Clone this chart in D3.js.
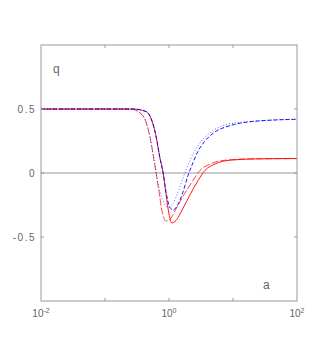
<!DOCTYPE html>
<html>
<head>
<meta charset="utf-8">
<script src="https://cdn.jsdelivr.net/npm/d3@7"></script>
<style>
  body { margin: 0; background: #fff; }
  svg text { font-family: "Liberation Sans", Arial, sans-serif; fill: #666; }
</style>
</head>
<body>
<svg id="chart" width="324" height="360"></svg>
<script>
// tick labels
const yTicks = [-0.5, 0, 0.5];
const xTicks = [0.1, 1, 10];
const xLabelExp = [-2, 0, 2];

// curves: a values and q values
const blueDotA = [0.01, 0.25, 0.35, 0.42, 0.5, 0.58, 0.67, 0.78, 0.9, 1.0, 1.15, 1.38, 1.71, 2.13, 2.74, 3.65, 5.2, 8.2, 17, 100];
const blueDotQ = [0.5, 0.5, 0.47, 0.42, 0.29, 0.11, -0.08, -0.2, -0.26, -0.27, -0.24, -0.15, -0.02, 0.10, 0.2, 0.28, 0.34, 0.38, 0.40, 0.42];

const blueDashA = [0.01, 0.27, 0.44, 0.52, 0.62, 0.72, 0.81, 0.9, 1.0, 1.15, 1.33, 1.6, 1.98, 2.37, 2.84, 3.65, 5.2, 9, 18, 100];
const blueDashQ = [0.5, 0.5, 0.48, 0.43, 0.30, 0.12, 0, -0.15, -0.25, -0.29, -0.26, -0.17, -0.02, 0.08, 0.17, 0.25, 0.32, 0.37, 0.40, 0.42];

const redDashA = [0.01, 0.25, 0.35, 0.42, 0.5, 0.58, 0.63, 0.7, 0.78, 0.9, 1.04, 1.29, 1.71, 2.29, 3.05, 4.4, 7.5, 18, 100];
const redDashQ = [0.5, 0.5, 0.47, 0.42, 0.29, 0.11, 0, -0.15, -0.30, -0.375, -0.36, -0.28, -0.17, -0.07, 0.02, 0.07, 0.10, 0.11, 0.113];

const redSolidA = [0.01, 0.27, 0.44, 0.52, 0.62, 0.72, 0.81, 0.9, 1.0, 1.11, 1.29, 1.6, 2.13, 2.84, 3.65, 5.2, 9, 22, 100];
const redSolidQ = [0.5, 0.5, 0.48, 0.43, 0.30, 0.12, 0, -0.17, -0.32, -0.39, -0.37, -0.29, -0.17, -0.06, 0.02, 0.07, 0.10, 0.11, 0.113];

// red first so the blue ones sit on top like in the picture
const series = [
  { a: redSolidA, q: redSolidQ, color: "#ff0000", dash: null, op: 0.9 },
  { a: redDashA, q: redDashQ, color: "#ff0000", dash: "7,2", op: 0.7 },
  { a: blueDashA, q: blueDashQ, color: "#0000ff", dash: "4,2", op: 0.9 },
  { a: blueDotA, q: blueDotQ, color: "#0000ff", dash: "1,2", op: 0.6 }
];

const margin = { top: 45, right: 27, bottom: 59, left: 41 };
const width = 324 - margin.left - margin.right;
const height = 360 - margin.top - margin.bottom;

const svg = d3.select("#chart")
  .append("g")
  .attr("transform", `translate(${margin.left}, ${margin.top})`);

const x = d3.scaleLog().domain([0.01, 100]).range([0, width]);
const y = d3.scaleLinear().domain([-1, 1]).range([height, 0]);

// zero line
svg.append("line")
  .attr("x1", 0).attr("x2", width)
  .attr("y1", y(0)).attr("y2", y(0))
  .attr("stroke", "#999").attr("stroke-width", 1);

// curves
const line = d3.line()
  .x(d => x(d[0]))
  .y(d => y(d[1]))
  .curve(d3.curveMonotoneX);

series.forEach(s => {
  const pts = s.a.map((v, i) => [v, s.q[i]]);
  svg.append("path")
    .attr("d", line(pts))
    .attr("fill", "none")
    .attr("stroke", s.color)
    .attr("stroke-opacity", s.op)
    .attr("stroke-width", 1)
    .attr("stroke-dasharray", s.dash);
});

// frame
svg.append("rect")
  .attr("width", width).attr("height", height)
  .attr("fill", "none").attr("stroke", "#999").attr("stroke-width", 1);

// inward ticks
const tl = 3;
xTicks.forEach(t => {
  svg.append("line").attr("x1", x(t)).attr("x2", x(t)).attr("y1", height).attr("y2", height - tl).attr("stroke", "#999");
  svg.append("line").attr("x1", x(t)).attr("x2", x(t)).attr("y1", 0).attr("y2", tl).attr("stroke", "#999");
});
yTicks.forEach(t => {
  svg.append("line").attr("x1", 0).attr("x2", tl).attr("y1", y(t)).attr("y2", y(t)).attr("stroke", "#999");
  svg.append("line").attr("x1", width).attr("x2", width - tl).attr("y1", y(t)).attr("y2", y(t)).attr("stroke", "#999");
});

// y labels
svg.selectAll(".ylab")
  .data(yTicks)
  .enter().append("text")
  .attr("x", -5)
  .attr("y", d => y(d) + 3.5)
  .attr("text-anchor", "end")
  .style("font-size", "10px")
  .style("letter-spacing", "1.5px")
  .text(d => d === 0 ? "0" : d3.format(".1f")(d).replace("−", "-"));

// x labels 10^n
xLabelExp.forEach(e => {
  const t = svg.append("text")
    .attr("x", x(Math.pow(10, e)))
    .attr("y", height + 16)
    .attr("text-anchor", "middle")
    .style("font-size", "10px");
  t.append("tspan").text("10");
  t.append("tspan").attr("dy", -4).style("font-size", "7px").text(e);
});

// axis names
svg.append("text").attr("x", 12).attr("y", 28).style("font-size", "12px").text("q");
svg.append("text").attr("x", 222).attr("y", 244).style("font-size", "12px").text("a");
</script>
</body>
</html>
